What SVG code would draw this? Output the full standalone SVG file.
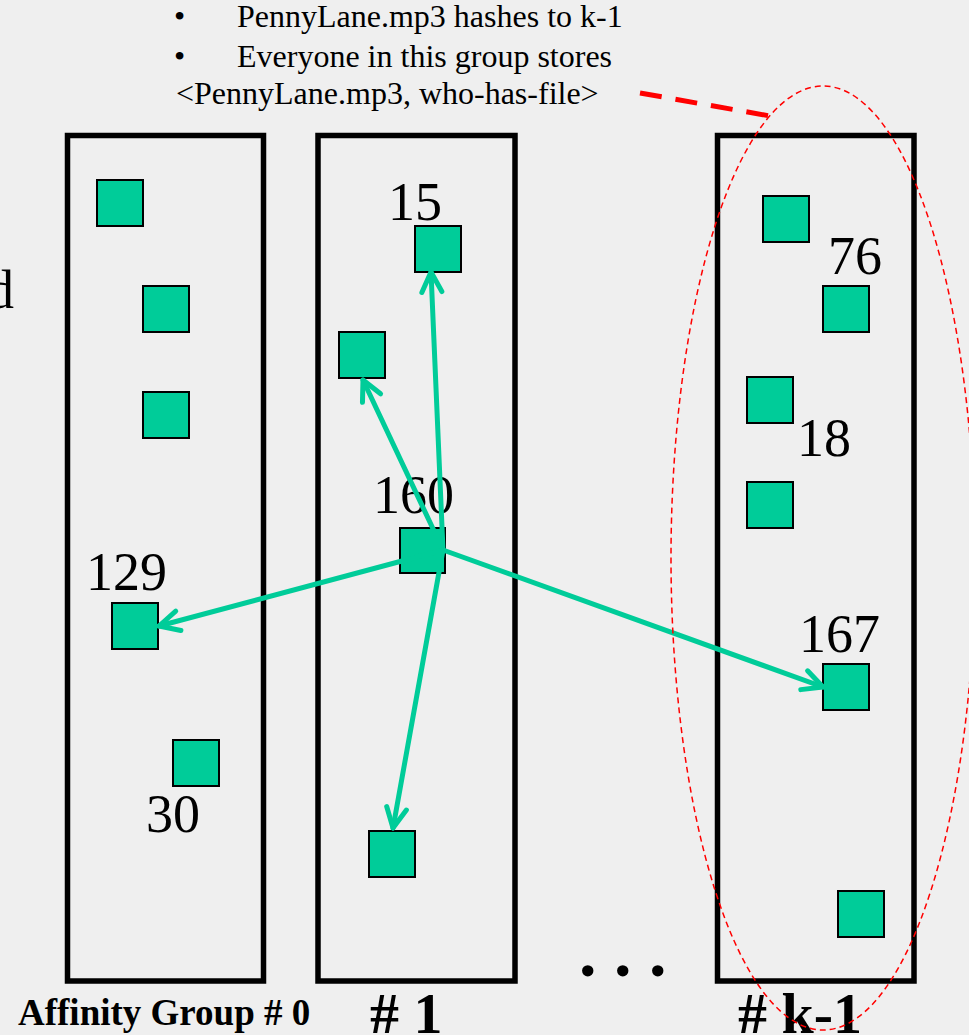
<svg xmlns="http://www.w3.org/2000/svg" width="969" height="1035" viewBox="0 0 969 1035">
<style>
.grp{fill:none;stroke:#000;stroke-width:5.5}
.node{fill:#00CC99;stroke:#000;stroke-width:2}
.lbl{font-family:"Liberation Serif","Times New Roman",serif;font-size:54px;fill:#000}
.top{font-family:"Liberation Serif","Times New Roman",serif;font-size:32px;fill:#000}
.bold{font-family:"Liberation Serif","Times New Roman",serif;font-weight:bold;fill:#000}
.arrow{stroke:#00CC99;stroke-width:5;fill:none;stroke-linecap:round;marker-end:url(#head)}
</style>
<defs>
<marker id="head" markerUnits="userSpaceOnUse" orient="auto" refX="0" refY="0" markerWidth="40" markerHeight="40" viewBox="-30 -20 40 40" overflow="visible">
<path d="M-20,-10 L0,0 L-20,10" fill="none" stroke="#00CC99" stroke-width="5" stroke-linecap="round" stroke-linejoin="round"/>
</marker>
</defs>
<rect x="0" y="0" width="969" height="1035" fill="#efefef"/>

<g id="header-text">
<text class="top" x="174" y="27">•</text>
<text class="top" x="237" y="27">PennyLane.mp3 hashes to k-1</text>
<text class="top" x="174" y="67">•</text>
<text class="top" x="237" y="67">Everyone in this group stores</text>
<text class="top" x="176" y="104">&lt;PennyLane.mp3, who-has-file&gt;</text>
</g>
<text class="lbl" x="-13" y="308" font-size="52">d</text>

<g id="group-0">
<rect class="grp" x="67.5" y="135.5" width="196" height="845.5"/>
<rect class="node" x="97" y="180" width="46" height="46"/>
<rect class="node" x="143" y="286" width="46" height="46"/>
<rect class="node" x="143" y="392" width="46" height="46"/>
<g id="node-129"><rect class="node" x="112" y="603" width="46" height="46"/><text class="lbl" x="86" y="590">129</text></g>
<g id="node-30"><rect class="node" x="173" y="740" width="46" height="46"/><text class="lbl" x="146" y="832">30</text></g>
<text class="bold" x="18" y="1025" font-size="37">Affinity Group # 0</text>
</g>

<g id="group-1">
<rect class="grp" x="318" y="135.5" width="197" height="845.5"/>
<g id="node-15"><rect class="node" x="415" y="226" width="46" height="46"/><text class="lbl" x="388" y="220">15</text></g>
<rect class="node" x="339" y="332" width="46" height="46"/>
<g id="node-160"><rect class="node" x="400" y="528" width="45" height="45"/><text class="lbl" x="373" y="513">160</text></g>
<rect class="node" x="369" y="831" width="46" height="46"/>
<text class="bold" x="370" y="1033" font-size="58"># 1</text>
</g>

<g id="group-k-1">
<rect class="grp" x="717.5" y="135.5" width="196.5" height="845.5"/>
<rect class="node" x="763" y="196" width="46" height="46"/>
<g id="node-76"><rect class="node" x="823" y="286" width="46" height="46"/><text class="lbl" x="828" y="274">76</text></g>
<g id="node-18"><rect class="node" x="747" y="377" width="46" height="46"/><text class="lbl" x="797" y="456">18</text></g>
<rect class="node" x="747" y="482" width="46" height="46"/>
<g id="node-167"><rect class="node" x="823" y="664" width="46" height="46"/><text class="lbl" x="799" y="652">167</text></g>
<rect class="node" x="838" y="891" width="46" height="46"/>
<text class="bold" x="738" y="1033" font-size="58"># k-1</text>
</g>

<text class="bold" x="579" y="976" font-size="70">. . .</text>

<g id="connectors">
<line class="arrow" x1="443" y1="550" x2="431" y2="272"/>
<line class="arrow" x1="443" y1="550" x2="363" y2="380"/>
<line class="arrow" x1="443" y1="550" x2="159" y2="626"/>
<line class="arrow" x1="443" y1="550" x2="393" y2="828"/>
<line class="arrow" x1="443" y1="550" x2="823" y2="687"/>
</g>

<g id="highlight">
<ellipse cx="823" cy="558" rx="152" ry="472" fill="none" stroke="#ff0000" stroke-width="1.5" stroke-dasharray="6 4"/>
<line x1="640" y1="93" x2="770" y2="116" stroke="#ff0000" stroke-width="5" stroke-dasharray="22 14"/>
</g>
</svg>
